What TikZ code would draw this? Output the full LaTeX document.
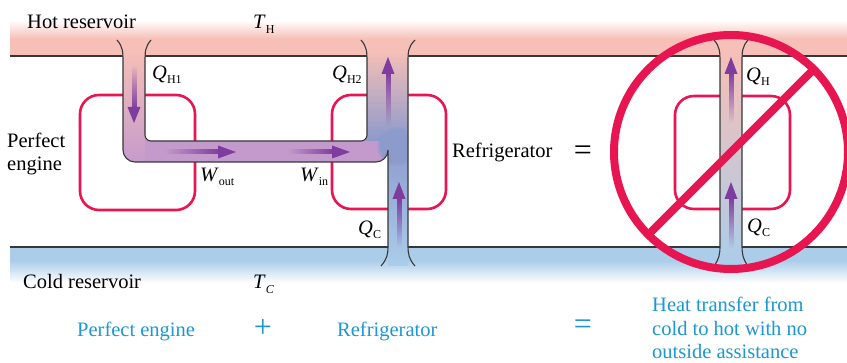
\documentclass[tikz,border=0pt]{standalone}
\usepackage{fontspec}
\setmainfont{Liberation Serif}
\usepackage{tikz}
\usetikzlibrary{positioning, fadings}

\definecolor{hotpink}{RGB}{246,191,183}
\definecolor{coldblue}{RGB}{171,205,234}
\definecolor{cyclered}{RGB}{232,22,80}
\definecolor{flowpurple}{RGB}{125,60,158}
\definecolor{pipemauve}{RGB}{196,154,204}
\definecolor{pipelilac}{RGB}{222,208,234}
\definecolor{pipeblue}{RGB}{140,154,204}
\definecolor{pipemist}{RGB}{218,198,220}
\definecolor{edgegray}{RGB}{55,55,55}
\definecolor{capblue}{RGB}{28,150,212}

\tikzfading[name=fadeup, top color=transparent!0, bottom color=transparent!100]
\tikzfading[name=fadedown, top color=transparent!100, bottom color=transparent!0]
\tikzfading[name=faderight, left color=transparent!100, right color=transparent!0]

\newcommand{\flowlab}[2]{\textit{#1}\raisebox{-4pt}{\fontsize{12}{12}\selectfont #2}}
% arrows inside the pipes: line position, tail, tip
\newcommand{\heatup}[3]{%
  \fill[flowpurple, path fading=fadeup] ({#1-2.5},#2) rectangle ({#1+2.5},{#3+15});
  \fill[flowpurple] ({#1-6.5},{#3+17}) -- ({#1+6.5},{#3+17}) -- (#1,#3) -- cycle;}
\newcommand{\heatdown}[3]{%
  \fill[flowpurple, path fading=fadedown] ({#1-2.5},#2) rectangle ({#1+2.5},{#3-14});
  \fill[flowpurple] ({#1-6.5},{#3-16}) -- ({#1+6.5},{#3-16}) -- (#1,#3) -- cycle;}
\newcommand{\heatright}[3]{%
  \fill[flowpurple, path fading=faderight] (#2,{#1-2.5}) rectangle ({#3-16},{#1+2.5});
  \fill[flowpurple] ({#3-18},{#1-6.5}) -- ({#3-18},{#1+6.5}) -- (#3,#1) -- cycle;}

\begin{document}
\begin{tikzpicture}[x=1pt, y=-1pt,
  pipeedge/.style={draw=edgegray, line width=1.1pt},
  cyclebox/.style={draw=cyclered, line width=2.6pt, rounded corners=19pt},
  lbl/.style={font=\fontsize{20.5}{23.5}\selectfont, inner sep=0pt},
  caption/.style={lbl, text=capblue}]
\useasboundingbox (0,0) rectangle (847,363);

% reservoirs
\shade[top color=white, bottom color=hotpink] (10,20) rectangle (847,39);
\fill[hotpink] (10,38.5) rectangle (847,56);
\draw[pipeedge] (10,56) -- (847,56);
\fill[coldblue] (10,247) rectangle (847,261);
\shade[top color=coldblue, bottom color=white] (10,260.5) rectangle (847,283);
\draw[pipeedge] (10,247) -- (847,247);

% engine and refrigerator boxes
\draw[cyclebox] (80,95) rectangle (195,210);
\draw[cyclebox] (332,95) rectangle (446,209);
\draw[cyclebox] (675,96) rectangle (790,209);

% pipe of engine + refrigerator
\begin{scope}
\clip (123,54) -- (123,150) arc[start angle=180, end angle=90, radius=12]
  -- (376,162) arc[start angle=90, end angle=0, radius=12] -- (388,266) -- (408,266)
  -- (408,54) -- (367,54) -- (367,135) arc[start angle=0, end angle=90, radius=6]
  -- (151,141) arc[start angle=90, end angle=180, radius=6] -- (145,54) -- cycle;
\shade[top color=hotpink, bottom color=pipemauve] (120,50) rectangle (146,165);
\shade[left color=pipemauve, middle color=pipelilac, right color=pipemauve] (145,138) rectangle (390,165);
\shade[top color=hotpink, bottom color=pipeblue] (366,50) rectangle (410,141);
\shade[top color=pipeblue, bottom color=coldblue] (388,141) rectangle (410,266);
\fill[pipeblue, path fading=circle with fuzzy edge 20 percent] (396,146) circle[radius=20];
\end{scope}
\shade[top color=hotpink, middle color=pipemist, bottom color=coldblue] (720,54) rectangle (742,266);

% pipe edges
\draw[pipeedge] (117,40) .. controls (123,47) and (123,52) .. (123,62) -- (123,150)
  arc[start angle=180, end angle=90, radius=12] -- (376,162)
  arc[start angle=90, end angle=0, radius=12] -- (388,245) .. controls (388,255) and (387,259) .. (381,266);
\draw[pipeedge] (151,40) .. controls (145,47) and (145,52) .. (145,62) -- (145,135)
  arc[start angle=180, end angle=90, radius=6] -- (361,141)
  arc[start angle=90, end angle=0, radius=6] -- (367,62) .. controls (367,52) and (367,47) .. (361,40);
\draw[pipeedge] (415,40) .. controls (408,47) and (408,52) .. (408,62) -- (408,245) .. controls (408,255) and (409,259) .. (415,266);
\draw[pipeedge] (714,40) .. controls (720,47) and (720,52) .. (720,62) -- (720,245) .. controls (720,255) and (719,259) .. (714,266);
\draw[pipeedge] (748,40) .. controls (742,47) and (742,52) .. (742,62) -- (742,245) .. controls (742,255) and (743,259) .. (748,266);

% heat and work flows
\heatdown{134}{65}{123}
\heatright{152}{165}{236}
\heatright{152}{288}{350}
\heatup{388}{126}{57}
\heatup{399}{247}{182}
\heatup{731}{123}{57}
\heatup{731}{248}{182}

% no sign
\draw[cyclered, line width=8pt] (731,152) circle[radius=117];
\draw[cyclered, line width=8pt] (649,234) -- (813,70);

% labels
\node[lbl, anchor=base west] (hotlabel) at (27,29) {Hot reservoir};
\node[lbl, anchor=base west] (thot) at (253,29) {\textit{T}\raisebox{-5pt}{\fontsize{12}{12}\selectfont H}};
\node[lbl, anchor=base west] (coldlabel) at (23,289) {Cold reservoir};
\node[lbl, anchor=base west] (tcold) at (253,289) {\textit{T}\raisebox{-5pt}{\fontsize{12}{12}\selectfont\itshape C}};
\node[lbl, anchor=west, align=left] (enginelabel) at (7,154) {Perfect\\engine};
\node[lbl, anchor=base west] (fridgelabel) at (452,158) {Refrigerator};
\node[lbl, font=\fontsize{32}{32}\selectfont] (equalsign) at (583,153) {=};
\node[lbl, anchor=base west] (qhone) at (152,80) {\flowlab{Q}{H1}};
\node[lbl, anchor=base west] (qhtwo) at (332,80) {\flowlab{Q}{H2}};
\node[lbl, anchor=base west] (wout) at (200,182) {\flowlab{W}{out}};
\node[lbl, anchor=base west] (win) at (300,182) {\flowlab{W}{in}};
\node[lbl, anchor=base west] (qcold) at (358,235) {\flowlab{Q}{C}};
\node[lbl, anchor=base west] (qhnet) at (746,82) {\flowlab{Q}{H}};
\node[lbl, anchor=base west] (qcnet) at (747,233) {\flowlab{Q}{C}};

% captions
\node[caption, anchor=base west] (capengine) at (77,337) {Perfect engine};
\node[caption, font=\fontsize{32}{32}\selectfont] (capplus) at (263,328) {+};
\node[caption, anchor=base west] (capfridge) at (337,337) {Refrigerator};
\node[caption, font=\fontsize{32}{32}\selectfont] (capequal) at (583,327) {=};
\node[caption, anchor=west, align=left] (capresult) at (652,328) {Heat transfer from\\cold to hot with no\\outside assistance};
\end{tikzpicture}
\end{document}
